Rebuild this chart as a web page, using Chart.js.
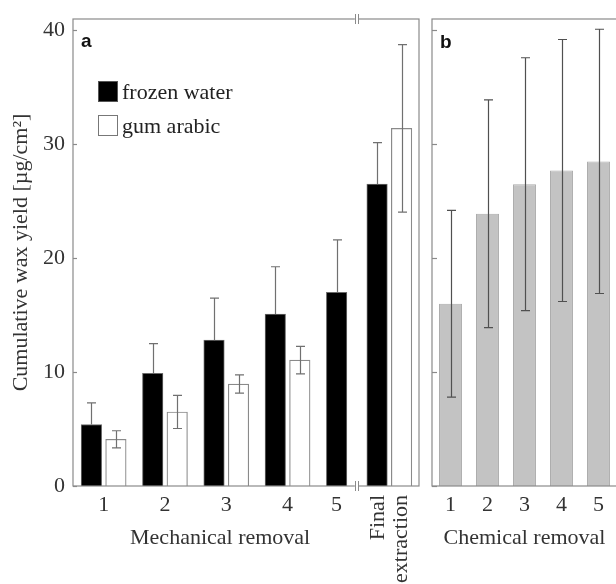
<!DOCTYPE html>
<html>
<head>
<meta charset="utf-8">
<script src="https://cdn.jsdelivr.net/npm/chart.js@4.4.1/dist/chart.umd.min.js"></script>
<style>
  html, body { margin: 0; padding: 0; background: #fff; overflow: hidden; width: 616px; height: 584px; }
  #chartA { position: absolute; left: 0; top: 0; }
  #chartB { position: absolute; left: 425px; top: 0; }
</style>
</head>
<body>
<canvas id="chartA" width="425" height="584"></canvas>
<canvas id="chartB" width="200" height="584"></canvas>
<script>
// ============================================================
// DATA
// ============================================================
const mechCategories = ['1', '2', '3', '4', '5', 'Final extraction'];
const frozenWater    = [5.4, 9.9, 12.8, 15.1, 17.0, 26.5];
const frozenErr      = [1.9, 2.6, 3.7, 4.15, 4.6, 3.65];
const gumArabic      = [4.1, 6.5, 8.95, 11.05, null, 31.4];
const gumErr         = [0.75, 1.45, 0.8, 1.2, null, 7.35];

const chemCategories = ['1', '2', '3', '4', '5'];
const chemRemoval    = [16.0, 23.9, 26.5, 27.7, 28.5];
const chemErr        = [8.2, 10.0, 11.1, 11.5, 11.6];

const yTicks = [0, 10, 20, 30, 40];

// ============================================================
// LAYOUT / STYLE
// ============================================================
const SERIF = '"Liberation Serif", "Times New Roman", serif';
const SANS = '"Liberation Sans", Arial, sans-serif';
const FRAME = '#8a8a8a';
const Y_MAX = 41;
const FINAL_GAP = 0.66;   // final extraction sits right after the axis break

// x position of each mechanical group on the linear axis
const mechPos = mechCategories.map((c, i) => i < 5 ? i + 1 : 5 + FINAL_GAP);

Chart.defaults.font.family = SERIF;
Chart.defaults.color = '#333';

function frameAndTicks(chart, tickLen) {
    const ctx = chart.ctx;
    const a = chart.chartArea;
    const y = chart.scales.y;
    ctx.save();
    ctx.strokeStyle = FRAME;
    ctx.lineWidth = 1.2;
    ctx.strokeRect(a.left, a.top, a.right - a.left, a.bottom - a.top);
    yTicks.forEach(v => {
        const py = Math.round(y.getPixelForValue(v)) + 0.5;
        ctx.beginPath();
        ctx.moveTo(a.left, py);
        ctx.lineTo(a.left + tickLen, py);
        ctx.stroke();
    });
    ctx.restore();
}

function drawErrors(chart, dsIndex, values, errs, color, upperOnly, cap) {
    const ctx = chart.ctx;
    const y = chart.scales.y;
    const meta = chart.getDatasetMeta(dsIndex);
    ctx.save();
    ctx.strokeStyle = color;
    ctx.lineWidth = 1.2;
    meta.data.forEach((el, i) => {
        if (values[i] === null || errs[i] === null) return;
        const top = y.getPixelForValue(values[i] + errs[i]);
        const bot = y.getPixelForValue(upperOnly ? values[i] : values[i] - errs[i]);
        const x = Math.round(el.x) + 0.5;
        ctx.beginPath();
        ctx.moveTo(x, top);
        ctx.lineTo(x, bot);
        ctx.moveTo(x - cap / 2, top);
        ctx.lineTo(x + cap / 2, top);
        if (!upperOnly) {
            ctx.moveTo(x - cap / 2, bot);
            ctx.lineTo(x + cap / 2, bot);
        }
        ctx.stroke();
    });
    ctx.restore();
}

function breakMark(ctx, x, y) {
    ctx.save();
    ctx.fillStyle = '#fff';
    ctx.fillRect(x - 2, y - 2, 4, 4);
    ctx.strokeStyle = FRAME;
    ctx.lineWidth = 1;
    [-1.5, 1.5].forEach(d => {
        ctx.beginPath();
        ctx.moveTo(Math.round(x + d) + 0.5, y - 5);
        ctx.lineTo(Math.round(x + d) + 0.5, y + 5);
        ctx.stroke();
    });
    ctx.restore();
}

// ============================================================
// PANEL A - MECHANICAL REMOVAL
// ============================================================
const panelAPlugin = {
    id: 'panelA',
    afterDatasetsDraw(chart) {
        const ctx = chart.ctx;
        const a = chart.chartArea;
        frameAndTicks(chart, 4);
        drawErrors(chart, 0, frozenWater, frozenErr, '#707070', true, 9);
        drawErrors(chart, 1, gumArabic, gumErr, '#707070', false, 9);

        const black = chart.getDatasetMeta(0).data;
        const white = chart.getDatasetMeta(1).data;

        // axis break between group 5 and the final extraction
        const bx = ((black[4].x + black[4].width / 2) + (black[5].x - black[5].width / 2)) / 2;
        breakMark(ctx, bx, a.top);
        breakMark(ctx, bx, a.bottom);

        // x labels under the drawn bars
        ctx.save();
        ctx.fillStyle = '#333';
        ctx.font = '22px ' + SERIF;
        ctx.textAlign = 'center';
        ctx.textBaseline = 'middle';
        const centers = [];
        for (let i = 0; i < 5; i++) {
            const xs = [black[i].x];
            if (gumArabic[i] !== null) xs.push(white[i].x);
            const cx = xs.reduce((s, v) => s + v, 0) / xs.length;
            centers.push(cx);
            ctx.fillText(mechCategories[i], cx, a.bottom + 19);
        }
        ctx.fillText('Mechanical removal', (centers[0] + centers[4]) / 2, a.bottom + 52);

        // rotated "Final extraction"
        const fx = (black[5].x + white[5].x) / 2;
        ctx.translate(fx, a.bottom + 9);
        ctx.rotate(-Math.PI / 2);
        ctx.textAlign = 'right';
        ctx.fillText('Final', 0, -11.5);
        ctx.fillText('extraction', 0, 11.5);
        ctx.restore();

        // panel letter
        ctx.save();
        ctx.fillStyle = '#111';
        ctx.font = 'bold 19px ' + SANS;
        ctx.fillText('a', a.left + 8, a.top + 28);

        // legend
        ctx.strokeStyle = '#555';
        ctx.lineWidth = 1;
        ctx.fillStyle = '#000';
        ctx.fillRect(98, 81, 19, 20);
        ctx.strokeRect(98.5, 81.5, 19, 20);
        ctx.fillStyle = '#fff';
        ctx.strokeStyle = '#777';
        ctx.strokeRect(98.5, 115.5, 19, 20);
        ctx.fillStyle = '#222';
        ctx.font = '22px ' + SERIF;
        ctx.textBaseline = 'alphabetic';
        ctx.fillText('frozen water', 122, 99);
        ctx.fillText('gum arabic', 122, 133);
        ctx.restore();
    }
};

new Chart(document.getElementById('chartA'), {
    type: 'bar',
    data: {
        datasets: [
            {
                label: 'frozen water',
                data: mechPos.map((x, i) => ({ x: x, y: frozenWater[i] })),
                backgroundColor: '#000',
                borderColor: '#6a6a6a',
                borderWidth: 1
            },
            {
                label: 'gum arabic',
                data: mechPos.map((x, i) => ({ x: x, y: gumArabic[i] })),
                backgroundColor: '#fff',
                borderColor: '#8a8a8a',
                borderWidth: 1.2
            }
        ]
    },
    options: {
        responsive: false,
        animation: false,
        barThickness: 24.5,
        maxBarThickness: 20.5,
        layout: { padding: { top: 19, right: 6, bottom: 98, left: 0 } },
        plugins: { legend: { display: false }, tooltip: { enabled: false } },
        scales: {
            x: { type: 'linear', min: 0.5, max: 6.144, offset: false, display: false },
            y: {
                min: 0,
                max: Y_MAX,
                afterFit(scale) { scale.width = 73; scale.paddingTop = 0; scale.paddingBottom = 0; },
                afterBuildTicks(scale) { scale.ticks = yTicks.map(v => ({ value: v })); },
                grid: { display: false, drawTicks: false },
                border: { display: false },
                ticks: { padding: 8, font: { size: 22 }, color: '#333' },
                title: {
                    display: true,
                    text: 'Cumulative wax yield [µg/cm²]',
                    font: { size: 22 },
                    color: '#333',
                    padding: { top: 8, bottom: 0 }
                }
            }
        }
    },
    plugins: [panelAPlugin]
});

// ============================================================
// PANEL B - CHEMICAL REMOVAL
// ============================================================
const panelBPlugin = {
    id: 'panelB',
    afterDatasetsDraw(chart) {
        const ctx = chart.ctx;
        const a = chart.chartArea;
        frameAndTicks(chart, 5);
        drawErrors(chart, 0, chemRemoval, chemErr, '#505050', false, 9);

        const bars = chart.getDatasetMeta(0).data;
        ctx.save();
        ctx.fillStyle = '#333';
        ctx.font = '22px ' + SERIF;
        ctx.textAlign = 'center';
        ctx.textBaseline = 'middle';
        bars.forEach((el, i) => ctx.fillText(chemCategories[i], el.x, a.bottom + 19));
        ctx.fillText('Chemical removal', (a.left + a.right) / 2, a.bottom + 52);

        ctx.fillStyle = '#111';
        ctx.font = 'bold 19px ' + SANS;
        ctx.textAlign = 'left';
        ctx.textBaseline = 'alphabetic';
        ctx.fillText('b', a.left + 8, a.top + 29);
        ctx.restore();
    }
};

new Chart(document.getElementById('chartB'), {
    type: 'bar',
    data: {
        labels: chemCategories,
        datasets: [{
            label: 'chemical removal',
            data: chemRemoval,
            backgroundColor: '#c3c3c3',
            borderColor: '#ababab',
            borderWidth: 1,
            categoryPercentage: 1,
            barPercentage: 0.62
        }]
    },
    options: {
        responsive: false,
        animation: false,
        layout: { padding: { top: 19, right: 8, bottom: 98, left: 7 } },
        plugins: { legend: { display: false }, tooltip: { enabled: false } },
        scales: {
            x: { display: false, offset: true },
            y: { display: false, min: 0, max: Y_MAX }
        }
    },
    plugins: [panelBPlugin]
});
</script>
</body>
</html>
